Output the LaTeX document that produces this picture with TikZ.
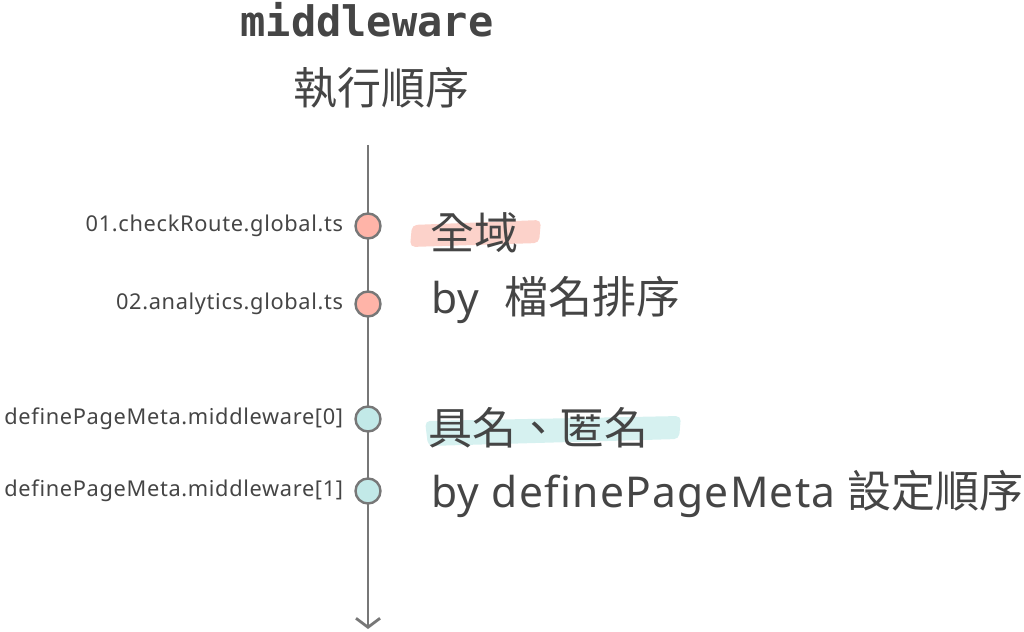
\documentclass[tikz,border=0pt]{standalone}
\usepackage{fontspec}
\setmainfont{Noto Sans}[Ligatures=NoCommon]
\setmonofont{DejaVu Sans Mono}
\newfontfamily\wide{Noto Sans}[Ligatures=NoCommon, LetterSpace=3]
\newfontfamily\cjk{Noto Sans CJK TC}
\usetikzlibrary{arrows.meta,positioning}
\definecolor{mwtext}{HTML}{454545}
\definecolor{mwline}{HTML}{777777}
\definecolor{mwsalmon}{HTML}{FFB4A8}
\definecolor{mwsalmonhl}{HTML}{FCD2CA}
\definecolor{mwteal}{HTML}{C2E9E8}
\definecolor{mwtealhl}{HTML}{D6F1F0}

\begin{document}
\begin{tikzpicture}[
    x=1pt, y=-1pt,
    every node/.style={text=mwtext},
    axis/.style={draw=mwline, line width=2.8pt, -{Straight Barb[length=9pt,width=24pt,line width=2.8pt]}},
    dot/.style={circle, draw=mwline, line width=2.4pt, minimum size=25pt, inner sep=0pt},
    hot/.style={dot, fill=mwsalmon},
    cool/.style={dot, fill=mwteal},
    fname/.style={font=\wide\fontsize{21.8}{26}\selectfont, inner sep=0pt},
    note/.style={font=\wide\fontsize{42.5}{48}\selectfont, anchor=west, inner sep=0pt},
    marker/.style={rounded corners=5pt}
]
    \useasboundingbox (0,0) rectangle (1024,631);

    % Highlights
    \fill [marker, mwsalmonhl] (412,225) -- (541,220) -- (539,243) -- (410,247) -- cycle;
    \fill [marker, mwtealhl] (425,421) -- (681,416) -- (679,439) -- (428,446) -- cycle;

    % Title
    \node (title) at (367,20) {\ttfamily\bfseries\fontsize{42}{48}\selectfont middleware};
    \node (sub) at (381,88) {\cjk\fontsize{44}{50}\selectfont 執行順序};

    % Timeline
    \coordinate (top) at (368,145);
    \coordinate (bot) at (368,629);
    \draw [axis] (top) -- (bot);

    \node (d1) [hot] at (368,226) {};
    \node (d2) [hot] at (368,304) {};
    \node (d3) [cool] at (368,419) {};
    \node (d4) [cool] at (368,491) {};

    \node (l1) [fname, left=11pt of d1] {01.checkRoute.global.ts};
    \node (l2) [fname, left=11pt of d2] {02.analytics.global.ts};
    \node (l3) [fname, left=11pt of d3] {definePageMeta.middleware[0]};
    \node (l4) [fname, left=11pt of d4] {definePageMeta.middleware[1]};

    \node (t1) [note] at (430,233) {\cjk\fontsize{44}{50}\selectfont 全域};
    \node (t2) [note] at (431,300) {by~~{\cjk\fontsize{44}{50}\selectfont 檔名排序}};
    \node (t3) [note] at (428,428) {\cjk\fontsize{44}{50}\selectfont 具名、匿名};
    \node (t4) [note] at (431,494) {by definePageMeta {\cjk\fontsize{44}{50}\selectfont 設定順序}};
\end{tikzpicture}
\end{document}
